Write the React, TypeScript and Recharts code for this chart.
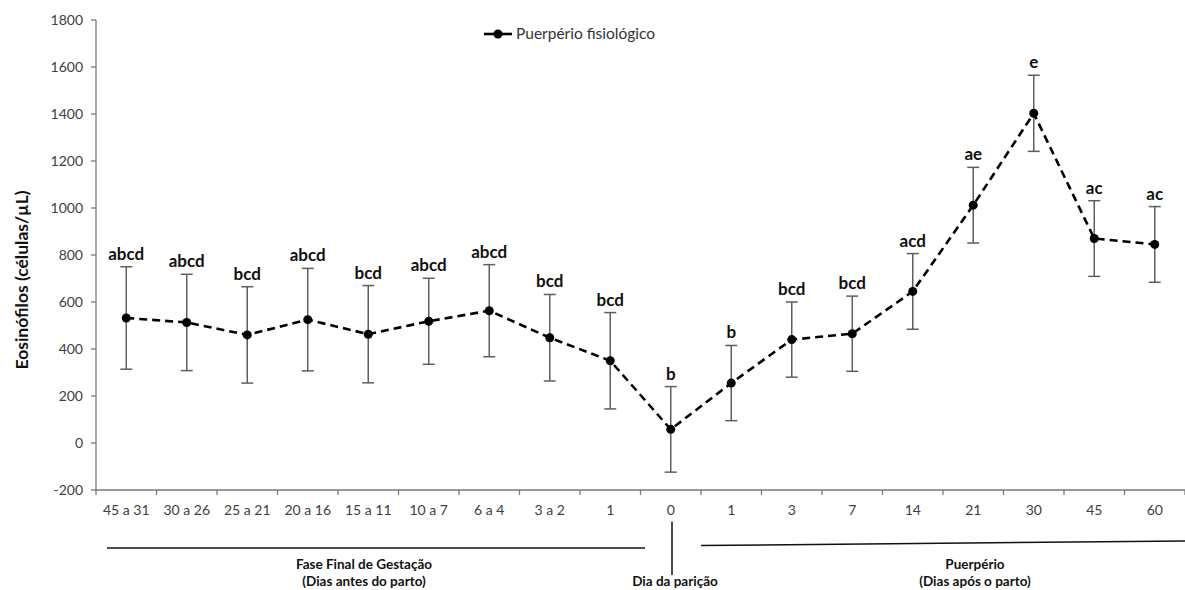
import React from "react";
import { ComposedChart, Line, XAxis, YAxis, ErrorBar, LabelList } from "recharts";

// sampling windows around parturition (days)
const periods = [
  "45 a 31", "30 a 26", "25 a 21", "20 a 16", "15 a 11", "10 a 7", "6 a 4", "3 a 2", "1",
  "0",
  "1", "3", "7", "14", "21", "30", "45", "60",
];

// eosinophil counts, mean and standard deviation (cells/µL)
const means = [532, 513, 460, 525, 463, 518, 563, 448, 350, 58, 255, 440, 465, 645, 1012, 1403, 870, 845];
const sds = [218, 205, 205, 218, 207, 183, 196, 184, 205, 182, 160, 160, 160, 161, 161, 162, 161, 161];

// significance letters shown above each bar
const letters = [
  "abcd", "abcd", "bcd", "abcd", "bcd", "abcd", "abcd", "bcd", "bcd",
  "b", "b", "bcd", "bcd", "acd", "ae", "e", "ac", "ac",
];

const yTicks = [-200, 0, 200, 400, 600, 800, 1000, 1200, 1400, 1600, 1800];
const minorTicks = Array.from({ length: 51 }, (_, i) => -200 + i * 40);

const data = periods.map((period, i) => ({
  key: `p${i}`,
  period,
  mean: means[i],
  sd: sds[i],
  top: means[i] + sds[i],
  letters: letters[i],
}));

const FONT = "Lato, 'Open Sans', sans-serif";
const AXIS = "#7a7a7a";

const PeriodTick = (props: any) => {
  const { x, y, payload, index } = props;
  const half = payload?.offset ?? 30.25;
  const row = data.find((d) => d.key === payload?.value);
  return (
    <g>
      <line x1={x - half} x2={x - half} y1={y - 5} y2={y} stroke={AXIS} strokeWidth={1.3} />
      {index === periods.length - 1 && (
        <line x1={x + half} x2={x + half} y1={y - 5} y2={y} stroke={AXIS} strokeWidth={1.3} />
      )}
      <text x={x} y={y} dy={19.5} textAnchor="middle" fontFamily={FONT} fontSize={14} fill="#404040">
        {row?.period}
      </text>
    </g>
  );
};

const AxisTitle = (props: any) => {
  const vb = props.viewBox || { x: 0, y: 20, width: 96, height: 470 };
  const cx = 21;
  const cy = vb.y + vb.height / 2 + 25;
  return (
    <text
      x={cx}
      y={cy}
      transform={`rotate(-90, ${cx}, ${cy})`}
      textAnchor="middle"
      dominantBaseline="central"
      fontFamily={FONT}
      fontWeight={700}
      fontSize={17.5}
      fill="#111"
    >
      Eosinófilos (células/µL)
    </text>
  );
};

export default function App() {
  return (
    <div style={{ position: "absolute", left: 0, top: 0, width: 1185, height: 590, background: "#fff" }}>
      <ComposedChart
        width={1185}
        height={590}
        data={data}
        margin={{ top: 20, right: 0, left: 0, bottom: 70 }}
      >
        <XAxis
          dataKey="key"
          type="category"
          scale="band"
          interval={0}
          height={30}
          tickSize={5}
          tickMargin={0}
          tickLine={false}
          axisLine={{ stroke: AXIS, strokeWidth: 1.3 }}
          tick={<PeriodTick />}
        />
        <YAxis
          domain={[-200, 1800]}
          ticks={yTicks}
          width={96}
          tickSize={5}
          tickMargin={8}
          interval={0}
          axisLine={{ stroke: AXIS, strokeWidth: 1.3 }}
          tickLine={{ stroke: AXIS, strokeWidth: 1.3 }}
          tick={{ fontFamily: FONT, fontSize: 14, fill: "#404040" }}
          label={<AxisTitle />}
        />
        <YAxis
          yAxisId="minor"
          mirror
          domain={[-200, 1800]}
          ticks={minorTicks}
          interval={0}
          tickSize={3}
          axisLine={false}
          tickLine={{ stroke: AXIS, strokeWidth: 1.2 }}
          tick={() => <g />}
        />
        <Line
          dataKey="mean"
          stroke="#000"
          strokeWidth={2.6}
          strokeDasharray="8 5"
          dot={{ r: 4.5, fill: "#000", stroke: "#000", strokeWidth: 0 }}
          activeDot={false}
          isAnimationActive={false}
        >
          <ErrorBar dataKey="sd" direction="y" width={6} stroke="#5f5f5f" strokeWidth={1.5} />
        </Line>
        <Line
          dataKey="top"
          stroke="none"
          dot={false}
          activeDot={false}
          legendType="none"
          isAnimationActive={false}
        >
          <LabelList
            dataKey="letters"
            position="top"
            offset={7}
            style={{ fontFamily: FONT, fontWeight: 700, fontSize: 17, fill: "#111" }}
          />
        </Line>
      </ComposedChart>

      <svg
        width={1185}
        height={590}
        style={{ position: "absolute", left: 0, top: 0, pointerEvents: "none" }}
        fontFamily={FONT}
      >
        {/* legend */}
        <line x1={484} x2={512} y1={34} y2={34} stroke="#000" strokeWidth={2.6} />
        <circle cx={498} cy={34} r={4.5} fill="#000" />
        <text x={516} y={39} fontSize={15.5} fill="#333">
          Puerpério fisiológico
        </text>

        {/* phase brackets under the axis */}
        <line x1={107} x2={645} y1={548} y2={548} stroke="#111" strokeWidth={1.5} />
        <line x1={672} x2={672} y1={521.5} y2={575} stroke="#111" strokeWidth={1.5} />
        <line x1={701} x2={1185} y1={545.5} y2={541} stroke="#111" strokeWidth={1.5} />

        <g fontWeight={700} fontSize={13.5} fill="#111" textAnchor="middle">
          <text x={364} y={569}>Fase Final de Gestação</text>
          <text x={364} y={586}>(Dias antes do parto)</text>
          <text x={675} y={586}>Dia da parição</text>
          <text x={975} y={569}>Puerpério</text>
          <text x={975} y={586}>(Dias após o parto)</text>
        </g>
      </svg>
    </div>
  );
}
